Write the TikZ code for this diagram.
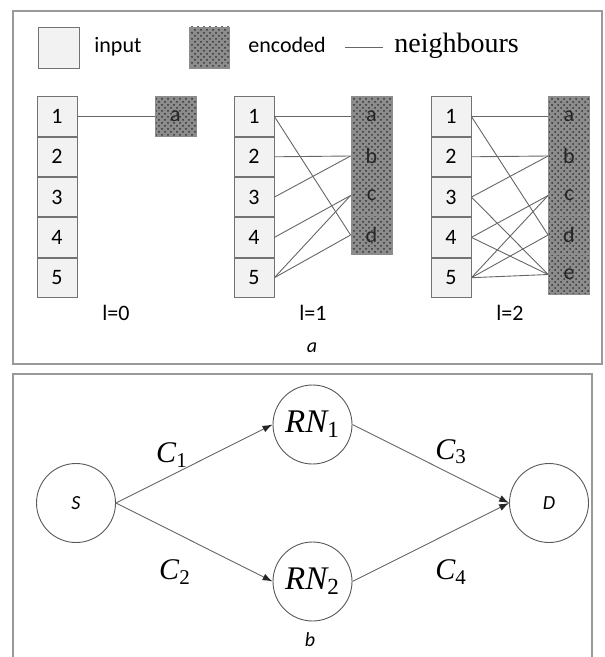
\documentclass[tikz,border=0pt]{standalone}
\usepackage{fontspec}
\setmainfont{Carlito}
\newfontfamily\tms{Liberation Serif}
\usepackage{xcolor}
\usetikzlibrary{patterns,arrows.meta,positioning}

\tikzset{
    inbox/.style={draw=black!55,fill=black!5,minimum width=20pt,minimum height=19.75pt,
        inner sep=0pt,font=\fontsize{11}{13}\selectfont},
    encbox/.style={draw=black!45,preaction={fill=black!45},pattern=crosshatch dots,
        pattern color=black!80,minimum width=20.5pt,minimum height=19.75pt,inner sep=0pt,
        text=black!85,font=\fontsize{11}{13}\selectfont},
    nb/.style={draw=black!60,line width=0.45pt},
    hop/.style={nb,-{Latex[length=5pt,width=3.5pt,black!85]}},
    relay/.style={circle,draw=black!65,line width=0.45pt,minimum size=39.5pt,inner sep=0pt},
    panel/.style={draw=black!40,line width=0.9pt},
    txt/.style={inner sep=0pt,font=\fontsize{11}{13}\selectfont},
    clab/.style={inner sep=0pt,font=\tms\fontsize{15}{17}\selectfont\itshape},
    slab/.style={inner sep=0pt,font=\fontsize{10}{12}\selectfont\itshape},
}

\begin{document}
\begin{tikzpicture}[x=0.5pt,y=-0.5pt]
    \useasboundingbox (0,0) rectangle (604,657);
    \draw[panel] (13,11) rectangle (602,364);
    \draw[panel] (13,660) -- (13,374) -- (592,374) -- (592,660);

    % legend
    \node[inbox,minimum width=20.5pt,minimum height=20.5pt] (kin) at (58.5,47.5) {};
    \node[txt,anchor=base west] (tin) at (94,53) {input};
    \node[encbox,minimum width=20pt,minimum height=20.5pt] (kenc) at (209,47.5) {};
    \node[txt,anchor=base west] (tenc) at (248,53) {encoded};
    \coordinate (n1) at (345,47);
    \coordinate (n2) at (383,47);
    \draw[nb] (n1) -- (n2);
    \node[inner sep=0pt,anchor=base west,font=\tms\fontsize{14}{16}\selectfont] (tnb) at (394,53) {neighbours};

    % input columns
    \foreach \k/\x in {0/57,1/254,2/451}{
        \node[inbox] (\k-1) at (\x,116.5) {1};
        \foreach \i [remember=\i as \j (initially 1)] in {2,...,5}
            \node[inbox,below=0pt of \k-\j] (\k-\i) {\i};
    }

    % encoded columns
    \node[encbox] (0a) at (175.5,116.5) {a};
    \foreach \l [count=\n] in {a,b,c,d}
        \node[encbox] (1\l) at (371.5,{116.5+39.5*(\n-1)}) {\l};
    \foreach \l [count=\n] in {a,b,c,d,e}
        \node[encbox] (2\l) at (569,{116.5+39.5*(\n-1)}) {\l};

    \draw[nb] (0-1.east) -- (0a.west);
    \foreach \i/\l in {1/a,1/d,2/b,3/b,4/c,5/c,5/d}
        \draw[nb] (1-\i.east) -- (1\l.west);
    \foreach \i/\l in {1/a,1/d,2/b,3/b,3/e,4/c,4/e,5/c,5/d,5/e}
        \draw[nb] (2-\i.east) -- (2\l.west);

    \node[txt] (l0) at (116,313) {l=0};
    \node[txt] (l1) at (313,313) {l=1};
    \node[txt] (l2) at (510,313) {l=2};
    \node[slab] (pa) at (312,348) {a};

    % relay network
    \node[relay] (S) at (76,503) {\fontsize{10}{12}\selectfont\itshape S};
    \node[relay] (RN1) at (312.5,424.5) {\tms\fontsize{16.5}{18}\selectfont\itshape RN\textsubscript{\upshape 1}};
    \node[relay] (RN2) at (312.5,581.5) {\tms\fontsize{16.5}{18}\selectfont\itshape RN\textsubscript{\upshape 2}};
    \node[relay] (D) at (549,503) {\fontsize{10}{12}\selectfont\itshape D};

    \draw[hop] (S.east) -- (RN1.west);
    \draw[hop] (S.east) -- (RN2.west);
    \draw[hop] (RN1.east) -- (D.west);
    \draw[hop] (RN2.east) -- (D.west);

    \node[clab] (c1) at (172,455) {C\textsubscript{\upshape 1}};
    \node[clab] (c2) at (175,572) {C\textsubscript{\upshape 2}};
    \node[clab] (c3) at (451,452) {C\textsubscript{\upshape 3}};
    \node[clab] (c4) at (451,572) {C\textsubscript{\upshape 4}};
    \node[slab] (pb) at (310,640) {b};
\end{tikzpicture}
\end{document}
